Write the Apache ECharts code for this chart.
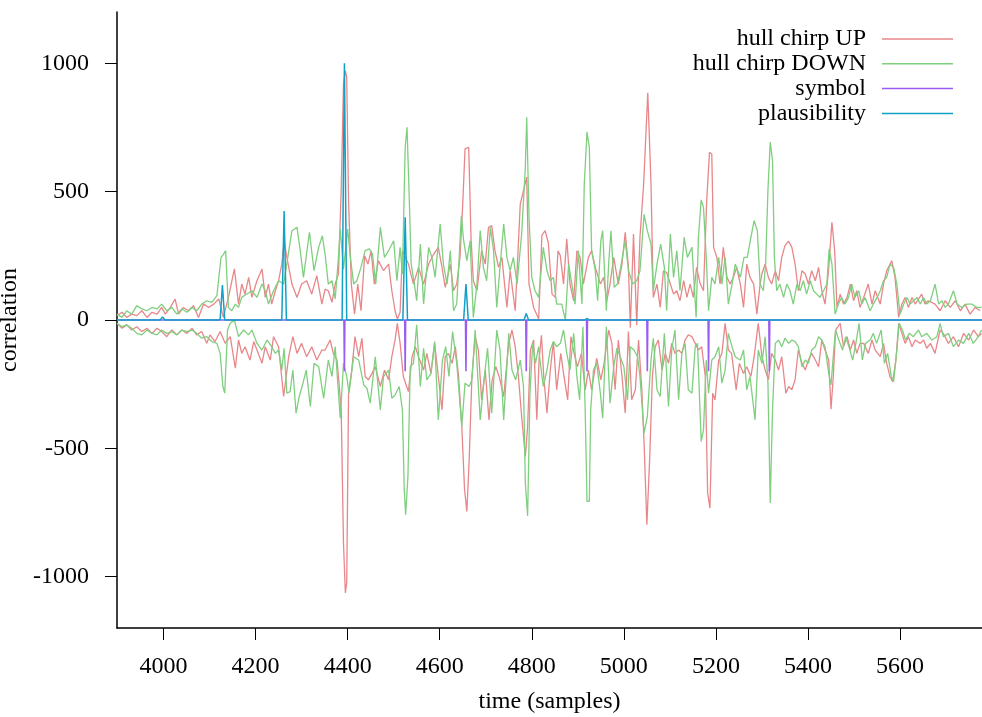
<!DOCTYPE html>
<html>
<head>
<meta charset="utf-8">
<script src="https://cdn.jsdelivr.net/npm/echarts@6/dist/echarts.min.js"></script>
<style>
  html, body { margin: 0; padding: 0; background: #fff; }
  #chart { width: 982px; height: 717px; }
</style>
</head>
<body>
<div id="chart"></div>
<script>
// Correlation envelopes of the up/down chirp detectors, [sample, value]
const upHull = [[3899,17],[3910,30],[3920,10],[3931,23],[3942,17],[3953,36],[3964,10],[3975,30],[3986,23],[3996,49],[4004,23],[4015,49],[4025,82],[4033,23],[4043,49],[4054,36],[4065,56],[4076,10],[4087,62],[4098,49],[4109,62],[4120,82],[4130,10],[4141,88],[4154,199],[4163,62],[4170,140],[4177,101],[4185,166],[4192,88],[4203,153],[4214,199],[4221,88],[4228,140],[4235,62],[4243,114],[4250,153],[4257,218],[4262,309],[4268,244],[4279,140],[4290,88],[4300,140],[4311,153],[4322,101],[4333,173],[4344,62],[4351,120],[4358,114],[4366,69],[4373,140],[4380,179],[4386,504],[4391,920],[4395,972],[4398,946],[4402,465],[4408,140],[4415,23],[4422,140],[4429,36],[4437,250],[4444,218],[4451,270],[4458,140],[4467,231],[4478,192],[4489,218],[4496,114],[4503,36],[4508,4],[4514,30],[4519,270],[4532,218],[4543,140],[4554,205],[4565,140],[4576,218],[4587,257],[4597,283],[4605,205],[4612,127],[4623,218],[4630,114],[4637,140],[4644,244],[4650,450],[4655,667],[4663,673],[4668,322],[4673,153],[4681,114],[4691,270],[4699,218],[4706,361],[4713,368],[4720,270],[4728,205],[4735,244],[4746,49],[4753,192],[4764,36],[4775,452],[4782,504],[4789,557],[4794,140],[4804,49],[4815,4],[4822,330],[4829,348],[4836,300],[4844,101],[4851,88],[4857,270],[4862,250],[4869,140],[4876,316],[4883,140],[4891,75],[4898,270],[4905,244],[4912,140],[4923,244],[4930,270],[4938,205],[4949,140],[4956,166],[4963,75],[4970,140],[4978,244],[4988,140],[4996,218],[5003,342],[5010,205],[5014,-30],[5021,335],[5028,-20],[5035,322],[5043,530],[5052,885],[5059,530],[5064,88],[5072,140],[5079,49],[5086,192],[5093,185],[5101,140],[5108,101],[5115,114],[5122,75],[5130,153],[5137,88],[5144,140],[5151,88],[5158,205],[5166,140],[5173,114],[5180,465],[5186,654],[5191,647],[5195,283],[5202,244],[5209,140],[5216,283],[5224,166],[5231,140],[5238,166],[5245,205],[5253,140],[5260,49],[5267,218],[5274,166],[5282,140],[5289,23],[5296,140],[5300,180],[5307,218],[5314,166],[5321,140],[5329,192],[5336,153],[5343,244],[5350,290],[5358,307],[5365,283],[5372,218],[5379,114],[5387,192],[5394,179],[5401,140],[5408,192],[5416,153],[5423,205],[5430,114],[5437,62],[5445,200],[5452,381],[5458,270],[5463,49],[5470,101],[5477,62],[5485,88],[5492,140],[5499,75],[5506,114],[5513,49],[5521,88],[5531,140],[5539,62],[5546,114],[5557,62],[5564,140],[5571,192],[5582,231],[5589,166],[5597,10],[5604,62],[5611,88],[5618,49],[5626,88],[5633,62],[5647,101],[5654,62],[5661,75],[5676,62],[5687,36],[5698,75],[5709,49],[5720,75],[5731,36],[5741,62],[5752,23],[5763,49],[5774,36]];

const upHullLow = [[3899,-13],[3910,-32],[3920,-19],[3931,-39],[3942,-26],[3953,-45],[3964,-32],[3975,-52],[3986,-32],[3996,-45],[4007,-65],[4018,-39],[4029,-58],[4040,-39],[4051,-52],[4062,-32],[4072,-58],[4083,-45],[4094,-91],[4101,-58],[4112,-84],[4123,-45],[4134,-91],[4145,-65],[4156,-188],[4163,-78],[4170,-130],[4177,-104],[4188,-156],[4196,-84],[4203,-117],[4214,-169],[4221,-104],[4232,-156],[4239,-65],[4250,-104],[4261,-298],[4272,-143],[4281,-65],[4290,-130],[4300,-91],[4311,-143],[4322,-104],[4333,-156],[4344,-117],[4351,-117],[4362,-78],[4369,-130],[4377,-156],[4386,-350],[4391,-869],[4395,-1063],[4398,-1025],[4402,-285],[4409,-195],[4416,-65],[4424,-143],[4431,-71],[4438,-220],[4445,-233],[4453,-208],[4460,-182],[4471,-259],[4480,-195],[4489,-233],[4496,-143],[4503,-78],[4508,-13],[4514,-91],[4521,-220],[4532,-279],[4540,-143],[4547,-104],[4554,-143],[4565,-195],[4572,-130],[4581,-208],[4589,-91],[4597,-220],[4605,-350],[4612,-143],[4619,-130],[4627,-169],[4634,-104],[4641,-220],[4648,-415],[4654,-661],[4659,-746],[4664,-545],[4670,-220],[4677,-65],[4684,-117],[4691,-311],[4699,-195],[4707,-389],[4714,-233],[4722,-182],[4729,-220],[4739,-298],[4750,-91],[4757,-39],[4764,-104],[4771,-220],[4778,-376],[4786,-532],[4791,-415],[4797,-117],[4804,-78],[4811,-389],[4816,-150],[4821,-60],[4826,-220],[4833,-363],[4840,-200],[4847,-84],[4854,-272],[4863,-130],[4870,-220],[4878,-311],[4885,-65],[4892,-130],[4899,-182],[4908,-130],[4916,-272],[4923,-195],[4930,-272],[4941,-149],[4950,-233],[4957,-170],[4967,-39],[4974,-91],[4981,-272],[4988,-78],[4996,-220],[5003,-363],[5010,-45],[5017,-311],[5025,-272],[5032,-78],[5039,-272],[5044,-480],[5050,-798],[5056,-545],[5062,-220],[5068,-104],[5075,-78],[5083,-195],[5090,-130],[5097,-169],[5104,-91],[5111,-130],[5119,-117],[5126,-130],[5133,-78],[5140,-58],[5148,-65],[5155,-91],[5162,-117],[5169,-104],[5177,-220],[5182,-674],[5187,-733],[5193,-285],[5198,-311],[5206,-156],[5213,-130],[5220,-13],[5227,-117],[5234,-130],[5244,-272],[5251,-169],[5260,-208],[5267,-182],[5276,-220],[5283,-143],[5292,-13],[5300,-143],[5307,-195],[5314,-233],[5321,-130],[5329,-156],[5336,-195],[5343,-143],[5352,-285],[5358,-259],[5365,-272],[5372,-233],[5379,-117],[5387,-169],[5394,-195],[5401,-156],[5408,-130],[5416,-156],[5423,-182],[5430,-78],[5437,-117],[5445,-156],[5450,-348],[5455,-220],[5460,-39],[5470,-13],[5477,-104],[5485,-65],[5492,-117],[5499,-78],[5506,-130],[5513,-91],[5521,-91],[5531,-130],[5539,-78],[5546,-117],[5557,-143],[5564,-91],[5571,-169],[5578,-220],[5584,-240],[5591,-156],[5597,-13],[5604,-52],[5611,-91],[5618,-65],[5626,-104],[5633,-78],[5644,-91],[5651,-78],[5658,-110],[5666,-91],[5676,-130],[5687,-39],[5694,-52],[5705,-91],[5716,-65],[5727,-104],[5738,-52],[5749,-78],[5760,-39],[5770,-65],[5777,-52]];

const downHull = [[3899,23],[3910,10],[3920,36],[3931,23],[3942,56],[3953,43],[3964,36],[3975,49],[3986,43],[3996,62],[4007,36],[4018,49],[4029,23],[4040,43],[4051,30],[4062,49],[4072,36],[4083,62],[4094,75],[4105,69],[4116,95],[4125,244],[4130,255],[4135,270],[4141,49],[4148,36],[4156,62],[4163,49],[4170,88],[4181,101],[4192,114],[4203,88],[4214,140],[4221,114],[4228,62],[4239,114],[4250,153],[4261,140],[4270,244],[4279,348],[4290,361],[4297,270],[4304,166],[4317,342],[4327,192],[4337,283],[4345,328],[4351,257],[4358,140],[4366,153],[4373,82],[4380,244],[4384,354],[4391,198],[4396,283],[4400,354],[4406,244],[4413,140],[4420,153],[4429,205],[4438,270],[4447,277],[4454,257],[4461,140],[4471,361],[4480,244],[4489,270],[4500,309],[4507,153],[4514,283],[4519,179],[4525,672],[4529,751],[4534,465],[4538,218],[4545,140],[4550,75],[4558,296],[4565,62],[4576,283],[4583,244],[4590,166],[4601,374],[4608,218],[4616,140],[4623,270],[4630,36],[4637,62],[4647,406],[4652,309],[4659,231],[4666,309],[4673,10],[4681,140],[4688,348],[4695,205],[4702,153],[4710,361],[4717,270],[4724,49],[4731,205],[4739,374],[4746,244],[4753,192],[4760,244],[4768,140],[4778,335],[4786,595],[4789,790],[4794,400],[4800,166],[4807,114],[4815,88],[4825,283],[4833,192],[4840,153],[4847,166],[4854,62],[4865,62],[4873,0],[4880,218],[4887,140],[4894,62],[4901,270],[4909,62],[4914,530],[4920,732],[4925,673],[4930,270],[4938,192],[4943,75],[4950,309],[4954,348],[4962,36],[4967,218],[4972,348],[4979,127],[4986,140],[4993,205],[5003,309],[5010,192],[5019,140],[5028,153],[5035,192],[5044,412],[5051,348],[5059,296],[5064,114],[5072,218],[5080,296],[5088,205],[5093,36],[5101,335],[5108,166],[5115,270],[5122,114],[5131,322],[5138,244],[5148,283],[5157,10],[5162,322],[5168,468],[5173,439],[5179,244],[5184,36],[5191,166],[5198,140],[5206,244],[5213,140],[5220,244],[5227,62],[5235,140],[5242,218],[5253,166],[5261,244],[5268,244],[5276,322],[5283,387],[5290,348],[5296,140],[5303,114],[5308,218],[5313,504],[5318,693],[5323,621],[5327,244],[5332,114],[5339,140],[5347,88],[5354,140],[5361,114],[5368,62],[5376,140],[5383,114],[5390,153],[5397,101],[5405,153],[5412,114],[5419,101],[5426,88],[5434,114],[5441,140],[5446,277],[5452,218],[5459,23],[5466,62],[5473,88],[5480,62],[5488,88],[5495,140],[5502,88],[5510,114],[5517,62],[5524,88],[5535,36],[5542,62],[5550,88],[5557,114],[5564,153],[5571,166],[5578,218],[5586,205],[5593,140],[5600,23],[5608,62],[5615,88],[5622,62],[5629,75],[5637,88],[5644,62],[5651,88],[5658,62],[5666,75],[5676,140],[5684,62],[5691,75],[5698,49],[5705,62],[5716,114],[5724,62],[5734,49],[5745,62],[5756,62],[5767,49],[5777,49]];

const downHullLow = [[3899,-13],[3910,-26],[3920,-19],[3931,-32],[3942,-52],[3953,-58],[3964,-39],[3975,-52],[3986,-58],[3996,-39],[4007,-52],[4018,-45],[4029,-58],[4040,-39],[4051,-45],[4062,-39],[4072,-52],[4083,-71],[4094,-65],[4105,-84],[4116,-91],[4123,-130],[4129,-259],[4133,-285],[4139,-39],[4145,-13],[4154,0],[4163,-65],[4174,-39],[4185,-58],[4192,-39],[4203,-91],[4214,-117],[4225,-78],[4235,-104],[4243,-130],[4250,-117],[4257,-195],[4262,-110],[4268,-285],[4275,-279],[4281,-195],[4288,-363],[4295,-298],[4303,-246],[4310,-195],[4319,-337],[4327,-169],[4337,-182],[4348,-305],[4355,-200],[4358,-156],[4366,-220],[4373,-104],[4384,-383],[4391,-169],[4398,-220],[4403,-285],[4413,-143],[4424,-156],[4435,-253],[4442,-266],[4449,-324],[4460,-143],[4471,-350],[4478,-220],[4489,-195],[4496,-305],[4503,-292],[4512,-259],[4519,-350],[4523,-661],[4526,-759],[4531,-610],[4536,-182],[4543,-169],[4550,-19],[4558,-259],[4565,-110],[4572,-233],[4581,-208],[4589,-84],[4597,-389],[4606,-156],[4613,-104],[4620,-220],[4628,-45],[4637,-169],[4648,-415],[4655,-246],[4664,-259],[4670,-233],[4677,-39],[4688,-389],[4697,-220],[4704,-110],[4713,-363],[4724,-39],[4731,-117],[4739,-389],[4750,-52],[4757,-195],[4765,-233],[4775,-156],[4782,-259],[4786,-636],[4791,-763],[4796,-285],[4802,-91],[4808,-169],[4815,-104],[4818,-160],[4825,-259],[4833,-195],[4840,-117],[4847,-84],[4854,-104],[4862,-91],[4869,-39],[4876,-130],[4883,-195],[4891,-52],[4898,-220],[4904,-311],[4911,-26],[4916,-350],[4920,-707],[4925,-707],[4928,-350],[4934,-195],[4941,-169],[4949,-285],[4954,-383],[4962,-26],[4970,-324],[4978,-182],[4985,-110],[4992,-143],[5000,-182],[5008,-311],[5014,-104],[5022,-117],[5030,-143],[5035,-220],[5044,-441],[5051,-376],[5059,-156],[5064,-71],[5072,-272],[5079,-298],[5088,-52],[5097,-337],[5104,-117],[5111,-39],[5119,-311],[5126,-130],[5133,-91],[5140,-272],[5148,-285],[5155,-104],[5160,-91],[5168,-473],[5173,-428],[5179,-156],[5184,-285],[5191,-156],[5198,-143],[5206,-104],[5213,-246],[5220,-195],[5227,-52],[5235,-104],[5242,-143],[5253,-156],[5260,-117],[5267,-272],[5274,-220],[5285,-389],[5292,-117],[5300,-169],[5307,-65],[5313,-246],[5318,-713],[5323,-350],[5329,-91],[5336,-78],[5343,-104],[5350,-71],[5358,-91],[5365,-78],[5372,-84],[5379,-104],[5387,-182],[5394,-156],[5401,-169],[5408,-117],[5416,-104],[5423,-65],[5430,-78],[5437,-104],[5445,-208],[5450,-253],[5456,-117],[5460,-39],[5467,-78],[5475,-117],[5482,-65],[5489,-104],[5497,-156],[5504,-91],[5511,-13],[5518,-156],[5525,-91],[5535,-78],[5542,-52],[5549,-91],[5559,-39],[5566,-169],[5573,-130],[5581,-220],[5586,-240],[5593,-117],[5598,-13],[5605,-39],[5612,-78],[5620,-52],[5629,-65],[5640,-39],[5647,-65],[5658,-52],[5669,-78],[5680,-65],[5687,-13],[5694,-65],[5705,-52],[5716,-104],[5727,-78],[5738,-91],[5749,-52],[5759,-91],[5770,-65],[5777,-39]];

// Detected symbol marks and plausibility peaks (sample position, value)
const symbolTimes  = [3996, 4128, 4261, 4393, 4525, 4657, 4788, 4920, 5051, 5184, 5316];
const symbolValues = [6, 6, 6, -200, -200, -200, -200, -200, -200, -200, -200];
const plausTimes   = [3998, 4128, 4262, 4393, 4525, 4657, 4788, 4920];
const plausValues  = [12, 136, 425, 1000, 400, 140, 25, 6];

// Axis tick values
const xTicks = [4000, 4200, 4400, 4600, 4800, 5000, 5200, 5400, 5600];
const yTicks = [-1000, -500, 0, 500, 1000];
const X_MIN = 3899, X_MAX = 5778, Y_MIN = -1200, Y_MAX = 1200;

// Impulse-style traces: zero baseline with a short excursion at each event
function spikes(times, values, halfWidth) {
  const out = [[X_MIN, 0]];
  times.forEach((t, i) => {
    out.push([t - halfWidth, 0], [t, values[i]], [t + halfWidth, 0]);
  });
  out.push([X_MAX, 0]);
  return out;
}

const FONT = "'Liberation Serif', 'DejaVu Serif', serif";
const C_UP = '#e8878a', C_DOWN = '#7fcf7f', C_SYM = '#9a5cf2', C_PL = '#11a0c6';

function lineSeries(name, data, color, width) {
  return {
    name: name, type: 'line', data: data, showSymbol: false, symbol: 'none',
    lineStyle: { color: color, width: width }, itemStyle: { color: color },
    animation: false, silent: true
  };
}

const plain = v => String(v);

const chart = echarts.init(document.getElementById('chart'), null, { renderer: 'canvas' });
chart.setOption({
  backgroundColor: '#ffffff',
  animation: false,
  grid: { left: 117, right: 0, top: 12, bottom: 89, containLabel: false, outerBoundsMode: 'none' },
  legend: {
    data: ['hull chirp UP', 'hull chirp DOWN', 'symbol', 'plausibility'],
    orient: 'vertical', align: 'right', right: 24, top: 22,
    icon: 'rect', itemWidth: 71, itemHeight: 1.5, itemGap: 0.8,
    selectedMode: false,
    textStyle: { fontFamily: FONT, fontSize: 24, color: '#000', lineHeight: 24, padding: [0, 11, 0, 0] }
  },
  xAxis: {
    type: 'value', min: X_MIN, max: X_MAX,
    name: 'time (samples)', nameLocation: 'middle', nameGap: 62,
    nameTextStyle: { fontFamily: FONT, fontSize: 24, color: '#000' },
    axisLine: { onZero: false, lineStyle: { color: '#000', width: 1.5 } },
    axisTick: { show: true, length: 12, inside: false, customValues: xTicks, lineStyle: { color: '#000', width: 1 } },
    axisLabel: { customValues: xTicks, formatter: plain, margin: 27, fontFamily: FONT, fontSize: 24, color: '#000' },
    splitLine: { show: false }
  },
  yAxis: {
    type: 'value', min: Y_MIN, max: Y_MAX,
    name: 'correlation', nameLocation: 'middle', nameGap: 83, nameRotate: 90,
    nameTextStyle: { fontFamily: FONT, fontSize: 24, color: '#000' },
    axisLine: { onZero: false, lineStyle: { color: '#000', width: 1.5 } },
    axisTick: { show: true, length: 12, inside: false, customValues: yTicks, lineStyle: { color: '#000', width: 1 } },
    axisLabel: { customValues: yTicks, formatter: plain, margin: 28, fontFamily: FONT, fontSize: 24, color: '#000' },
    splitLine: { show: false }
  },
  series: [
    lineSeries('hull chirp UP', upHull, C_UP, 1.3),
    lineSeries('hull chirp UP', upHullLow, C_UP, 1.3),
    lineSeries('hull chirp DOWN', downHull, C_DOWN, 1.3),
    lineSeries('hull chirp DOWN', downHullLow, C_DOWN, 1.3),
    lineSeries('symbol', spikes(symbolTimes, symbolValues, 1), C_SYM, 1.6),
    lineSeries('plausibility', spikes(plausTimes, plausValues, 5), C_PL, 1.5)
  ]
});
</script>
</body>
</html>
